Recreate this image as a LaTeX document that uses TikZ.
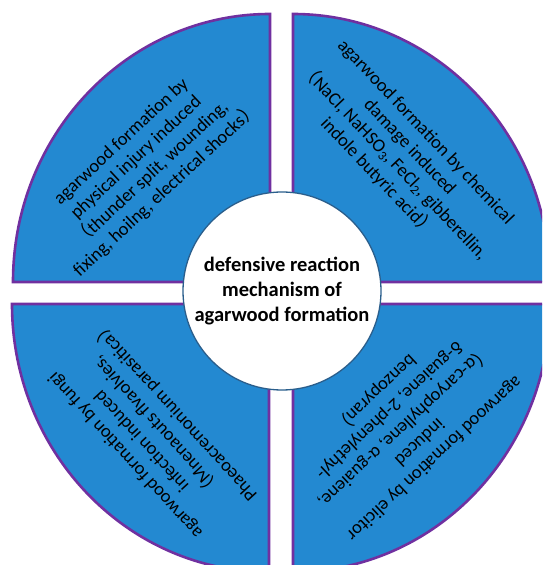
\documentclass[tikz,border=0pt]{standalone}
\usepackage{fontspec}
\setmainfont{Carlito}
\newfontfamily\cjk{Noto Sans CJK SC}
\definecolor{sectorblue}{HTML}{2389D1}
\definecolor{rimpurple}{HTML}{7030A0}
\definecolor{hubrim}{HTML}{2A5E8C}
\newcommand{\fwlp}{{\cjk （}}
\newcommand{\fwrp}{{\cjk ）}}

\begin{document}
\begin{tikzpicture}[
  x=1pt,y=1pt,  sector/.style={fill=sectorblue,draw=rimpurple,line width=2.6pt},  sectortext/.style={align=center,inner sep=0pt,font=\fontsize{18.5}{22}\selectfont},  hub/.style={circle,fill=white,draw=hubrim,line width=1.3pt,minimum size=198pt,inner sep=0pt,align=center,font=\fontsize{20.5}{25}\selectfont\bfseries}
]
  \useasboundingbox (0,0) rectangle (542,565);
  \clip (0,0) rectangle (542,565);
  \draw[sector] (270,283) -- (13,283) arc[start angle=180,end angle=90,x radius=257,y radius=268] -- cycle;
  \draw[sector] (293,283) -- (293,551) arc[start angle=90,end angle=0,x radius=257,y radius=268] -- cycle;
  \draw[sector] (269,261) -- (12,261) arc[start angle=180,end angle=270,x radius=257,y radius=268] -- cycle;
  \draw[sector] (293,261) -- (550,261) arc[start angle=0,end angle=-90,x radius=257,y radius=268] -- cycle;
  \node[sectortext,rotate=43] (physical) at (144,399) {agarwood formation by\\physical injury induced\\\fwlp thunder split, wounding,\\fixing, hoilng, electrical shocks\fwrp};
  \node[sectortext,rotate=-46.5] (chemical) at (401.5,410) {agarwood formation by chemical\\damage induced\\\fwlp NaCl, NaHSO\textsubscript{3}, FeCl\textsubscript{2}, gibberellin,\\indole butyric acid\fwrp};
  \node[sectortext,rotate=132.5] (fungi) at (150,132) {agarwood formation by fungi\\infection induced\\\fwlp Mnenaouts flvaolvies,\\Phaeoacremonium parasitica\fwrp};
  \node[sectortext,rotate=223] (elicitor) at (404,139) {agarwood formation by elicitor\\induced\\\fwlp α-caryophyllene, α-guaiene,\\δ-guaiene, 2-phenylethyl-\\benzopyran\fwrp};
  \node[hub] (hub) at (282,274) {defensive reaction\\mechanism of\\agarwood formation};
\end{tikzpicture}
\end{document}
